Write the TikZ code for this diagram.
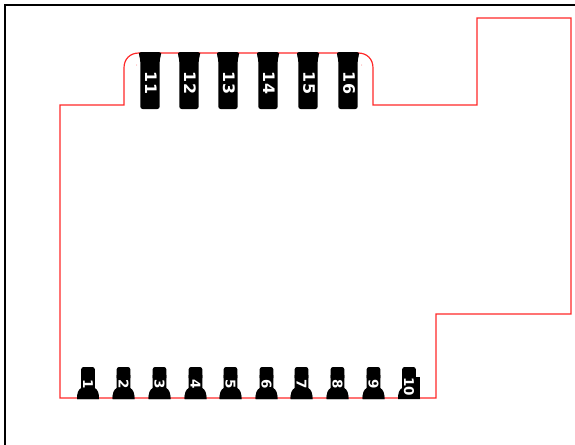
\documentclass[tikz,border=0pt]{standalone}
\usepackage{fontspec}
\newfontfamily\pinfont{DejaVu Sans}
\definecolor{outlinered}{RGB}{255,40,40}
\tikzset{
    outline/.style={outlinered,line width=1pt},
    frameline/.style={black,line width=1.7pt},
    padbody/.style={fill=black,draw=none},
    toplabel/.style={fill=black,text=white,inner sep=1.5pt,rotate=-90,font=\pinfont\bfseries\fontsize{13.5}{13.5}\selectfont},
    botlabel/.style={fill=black,text=white,inner sep=0.5pt,rotate=-90,font=\pinfont\bfseries\fontsize{11.5}{11.5}\selectfont}
}
\begin{document}
\begin{tikzpicture}[x=0.03cm,y=-0.03cm]
        \useasboundingbox (0,0) rectangle (575,445);
        \fill[white] (0,0) rectangle (575,445);
        % frame, top and left only
        \draw[frameline] (5,445) -- (5,5) -- (575,5);
        % board edge
        \draw[outline] (60,398) -- (60,105) -- (124,105) -- (124,68) .. controls (124,59) and (130,53) .. (139,53) -- (358,53)
            .. controls (367,53) and (373,59) .. (373,68) -- (373,105) -- (477,105) -- (477,18) -- (571,18) -- (571,314) -- (436,314) -- (436,398) -- cycle;
        \fill[outlinered!60] (136.6,65) circle (0.5) (361.7,65) circle (0.5);
        % upper row
        \foreach \px/\n in {150/11,189/12,228/13,268/14,308/15,348/16} {
            \begin{scope}[shift={(\px,0)}]
                \fill[padbody,rounded corners=2] (-11,52) -- (11,52) -- (11,55) -- (9.7,60) -- (9.7,109) -- (-9.7,109) -- (-9.7,60) -- (-11,55) -- cycle;
                \node[toplabel] (pin\n) at (1,83) {\n};
            \end{scope}
        }
        % lower row
        \foreach \px/\n in {88/1,123.5/2,159.5/3,195.5/4,230.5/5,266.5/6,301.5/7,337.5/8,373.5/9} {
            \begin{scope}[shift={(\px,0)}]
                \fill[padbody,rounded corners=2] (-6.8,367) -- (6.8,367) -- (6.8,380) -- (-6.8,380) -- cycle;
                \fill[padbody] (-6.8,375) -- (6.8,375) -- (6.8,388) .. controls (10,390) and (11,393) .. (11,399) -- (-11,399) .. controls (-11,393) and (-10,390) .. (-6.8,388) -- cycle;
                \node[botlabel] (pin\n) at (0,384.5) {\n};
                \fill[padbody] (-11,399) .. controls (-11,394) and (-9,391) .. (-6,389) -- (6,389) .. controls (9,391) and (11,394) .. (11,399) -- cycle;
            \end{scope}
        }
        \begin{scope}[shift={(409,0)}]
            \fill[padbody,rounded corners=2] (-6.8,367) -- (6.8,367) -- (6.8,380) -- (-6.8,380) -- cycle;
            \fill[padbody] (-6.8,375) -- (6.8,375) -- (6.8,388) .. controls (10,390) and (11,393) .. (11,399) -- (-11,399) .. controls (-11,393) and (-10,390) .. (-6.8,388) -- cycle;
            \fill[padbody] (0,377) rectangle (10.5,396);
            \node[botlabel] (pin10) at (0,386.5) {10};
        \end{scope}
\end{tikzpicture}
\end{document}
